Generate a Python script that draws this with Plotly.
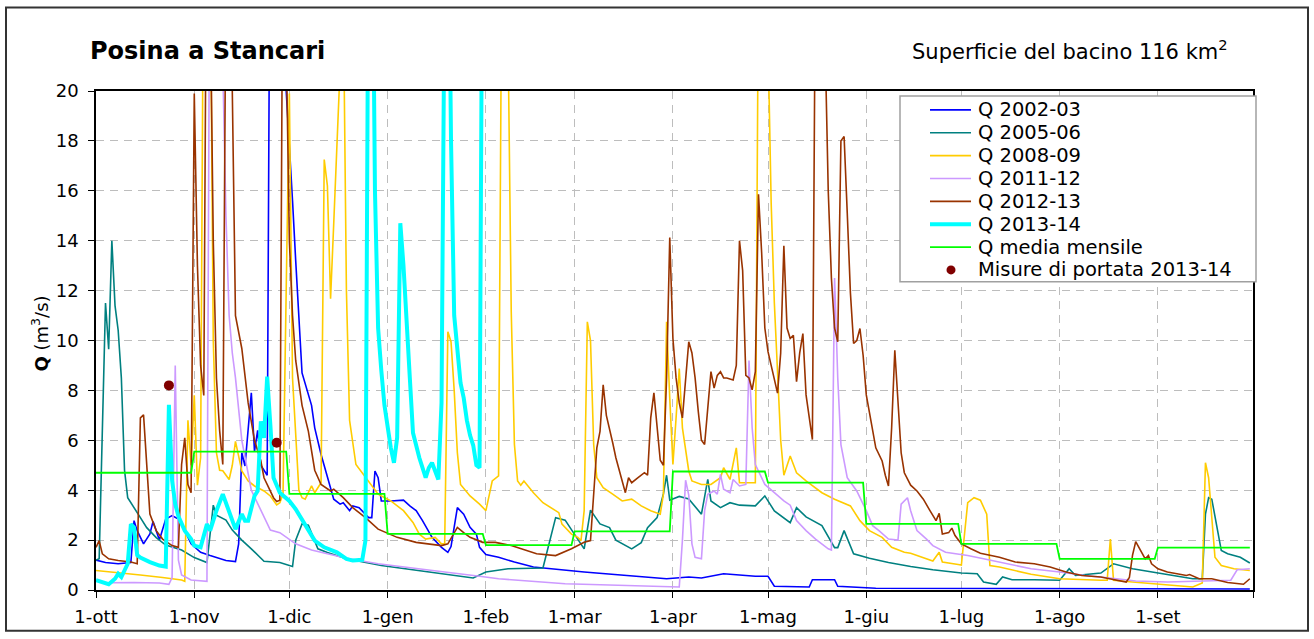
import plotly.graph_objects as go

# ---------------------------------------------------------------------------
# Data.  x = day of the hydrological year (0 = 1 October, 364 = 30 September)
# ---------------------------------------------------------------------------
MONTH_LABELS = ["1-ott", "1-nov", "1-dic", "1-gen", "1-feb", "1-mar",
                "1-apr", "1-mag", "1-giu", "1-lug", "1-ago", "1-set"]
MONTH_DAYS = [31, 30, 31, 31, 28, 31, 30, 31, 30, 31, 31, 30]

# daily discharge Q (m3/s), (day, value)
q_2002_03 = [(0, 1.2), (3, 1.1), (7, 1.05), (11, 1.1), (12, 2.78), (13, 2.38), (15, 1.85), (17, 2.25),
             (18, 2.75), (20, 2.0), (22, 2.84), (24, 2.98), (26, 2.84), (28, 2.38), (30, 1.85), (33, 1.51),
             (36, 1.38), (41, 1.18), (44, 1.14), (45, 1.85), (46, 5.5), (47, 4.97), (49, 7.9), (50, 5.56),
             (51, 6.4), (52, 5.0), (54, 4.6), (55, 30), (56, 38), (57, 34), (58, 28), (59, 24), (60, 20),
             (61, 18), (62, 15.6), (63, 13.2), (64, 10.8), (65, 8.7), (68, 7.4), (69, 6.5), (71, 5.43),
             (73, 4.5), (75, 3.64), (77, 3.44), (78, 3.5), (80, 3.18), (81, 3.37), (83, 3.3), (86, 2.9),
             (87, 2.9), (88, 4.77), (89, 4.5), (90, 3.57), (93, 3.57), (97, 3.6), (99, 3.37), (101, 3.18),
             (103, 2.78), (106, 2.11), (109, 1.71), (111, 1.51), (112, 1.74), (114, 3.3), (116, 3.04),
             (118, 2.51), (120, 2.24), (121, 1.71), (123, 1.42), (127, 1.31), (132, 1.12), (138, 0.92),
             (154, 0.72), (169, 0.56), (180, 0.45), (187, 0.52), (191, 0.48), (198, 0.65), (208, 0.55),
             (212, 0.55), (214, 0.15), (225, 0.12), (226, 0.41), (233, 0.41), (234, 0.15), (246, 0.07),
             (300, 0.06), (364, 0.04)]

q_2005_06 = [(0, 1.2), (1, 1.25), (3, 11.5), (4, 9.65), (5, 14.0), (6, 11.4), (7, 10.4), (8, 8.5), (9, 4.8),
             (10, 3.7), (14, 2.9), (16, 2.5), (19, 2.1), (22, 1.8), (27, 1.6), (31, 1.3), (35, 1.1), (37, 3.4),
             (38, 3.0), (41, 2.8), (43, 2.4), (46, 2.0), (49, 1.65), (53, 1.15), (58, 1.1), (62, 0.94),
             (63, 2.0), (65, 2.65), (67, 2.6), (70, 1.65), (73, 1.5), (79, 1.25), (90, 0.98), (100, 0.8),
             (111, 0.63), (119, 0.48), (123, 0.72), (130, 0.85), (141, 0.88), (145, 2.9), (148, 2.8),
             (151, 2.25), (154, 1.65), (156, 3.2), (159, 2.65), (162, 2.5), (164, 2.0), (169, 1.65),
             (172, 1.9), (174, 2.5), (177, 2.9), (179, 3.85), (180, 4.6), (181, 3.6), (184, 3.75),
             (187, 3.65), (191, 3.04), (193, 4.43), (194, 3.57), (197, 3.3), (200, 3.5), (203, 3.4),
             (208, 3.37), (211, 3.77), (214, 3.17), (219, 2.7), (221, 3.3), (224, 2.93), (229, 2.58),
             (233, 1.7), (234, 1.7), (236, 2.38), (239, 1.45), (244, 1.27), (250, 1.1), (257, 0.94),
             (264, 0.81), (273, 0.68), (278, 0.65), (280, 0.32), (284, 0.23), (286, 0.52), (289, 0.41),
             (296, 0.41), (304, 0.39), (307, 0.85), (309, 0.58), (317, 0.68), (321, 1.05), (327, 0.85),
             (338, 0.61), (346, 0.45), (349, 0.45), (350, 3.04), (351, 3.7), (352, 3.64), (355, 1.58),
             (357, 1.45), (361, 1.31), (364, 1.08)]

q_2008_09 = [(0, 0.78), (7, 0.7), (14, 0.6), (21, 0.5), (27, 0.4), (28, 0.35), (29, 6.8), (30, 5.0),
             (31, 7.8), (32, 4.2), (33, 5.3), (34, 28), (35, 35), (36, 26), (37, 10), (38, 5.5), (39, 4.8),
             (40, 4.78), (42, 4.43), (43, 5.0), (44, 5.96), (46, 4.77), (48, 4.37), (50, 4.17), (53, 3.97),
             (55, 3.77), (57, 3.41), (58, 3.5), (59, 3.84), (60, 12), (61, 19.9), (62, 8.5), (64, 4.0),
             (65, 3.7), (66, 3.64), (68, 4.17), (69, 3.9), (71, 4.3), (72, 17.25), (73, 16.2), (74, 11.67),
             (75, 14.7), (77, 19.8), (78, 24), (79, 12), (80, 6.8), (82, 5.03), (84, 4.7), (86, 4.37),
             (89, 3.84), (93, 3.57), (97, 3.18), (100, 2.71), (102, 2.24), (104, 2.04), (107, 2.11),
             (109, 1.85), (110, 1.85), (111, 10.35), (112, 9.95), (113, 8.0), (114, 5.5), (115, 4.23),
             (118, 3.77), (121, 3.44), (123, 3.18), (124, 3.77), (125, 4.37), (127, 4.57), (128, 25),
             (129, 30), (130, 22), (131, 11.14), (132, 5.83), (133, 4.37), (134, 4.2), (135, 4.37),
             (138, 3.9), (141, 3.5), (146, 3.1), (147, 2.64), (150, 2.24), (152, 2.11), (153, 1.98),
             (154, 3.18), (155, 10.75), (156, 10.0), (157, 5.83), (158, 4.5), (160, 4.1), (163, 3.84),
             (166, 3.57), (169, 3.64), (172, 3.37), (175, 3.18), (178, 3.04), (179, 3.84), (180, 10.75),
             (181, 7.69), (182, 5.03), (183, 6.9), (184, 8.88), (185, 6.5), (187, 4.77), (188, 4.37),
             (191, 4.23), (194, 4.23), (197, 4.5), (198, 4.9), (200, 4.43), (202, 5.7), (203, 4.3),
             (208, 4.3), (209, 25), (210, 35), (211, 30), (212, 22), (213, 15.5), (214, 11.5), (215, 8.5),
             (216, 6.0), (217, 4.6), (219, 5.37), (221, 4.7), (224, 4.37), (229, 3.9), (233, 3.64),
             (238, 3.37), (241, 2.78), (244, 2.38), (248, 2.11), (251, 1.71), (255, 1.51), (257, 1.47),
             (261, 1.31), (264, 1.16), (266, 1.51), (267, 1.12), (272, 1.02), (273, 1.0), (275, 3.5),
             (277, 3.7), (279, 3.6), (281, 3.04), (282, 0.98), (285, 0.92), (295, 0.63), (304, 0.45),
             (317, 0.39), (319, 0.39), (320, 2.04), (321, 0.39), (327, 0.32), (338, 0.19), (346, 0.12),
             (349, 0.28), (350, 5.1), (351, 4.5), (353, 1.31), (355, 0.98), (359, 0.85), (364, 0.78)]

q_2011_12 = [(0, 0.39), (3, 0.29), (12, 0.3), (20, 0.28), (23, 0.23), (24, 0.5), (25, 9.0), (26, 1.2),
             (27, 0.6), (30, 0.4), (35, 0.35), (36, 30), (37, 40), (38, 35), (39, 28), (40, 21), (41, 15),
             (42, 11), (43, 9.5), (44, 8.5), (46, 6.0), (49, 4.0), (53, 2.9), (55, 2.4), (58, 2.3),
             (63, 1.85), (68, 1.6), (79, 1.27), (89, 1.05), (100, 0.89), (110, 0.72), (121, 0.55),
             (127, 0.45), (148, 0.25), (169, 0.16), (184, 0.12), (185, 2.0), (186, 4.4), (187, 3.8),
             (188, 1.85), (189, 1.31), (191, 1.25), (192, 3.18), (193, 3.84), (195, 3.97), (196, 3.84),
             (197, 4.63), (198, 4.04), (200, 3.9), (201, 4.43), (203, 4.17), (205, 4.23), (206, 9.2),
             (207, 6.5), (208, 5.03), (211, 4.23), (214, 3.9), (217, 3.57), (219, 3.4), (221, 2.78),
             (224, 2.38), (227, 2.04), (231, 1.65), (232, 1.6), (233, 12.5), (234, 8.5), (235, 5.83),
             (237, 4.5), (240, 3.97), (243, 3.18), (245, 2.58), (247, 2.38), (250, 2.04), (253, 2.0),
             (254, 3.44), (256, 3.7), (257, 3.18), (259, 2.38), (262, 2.04), (264, 1.78), (268, 1.51),
             (275, 1.38), (280, 1.25), (285, 1.12), (295, 0.85), (304, 0.72), (312, 0.58), (322, 0.45),
             (328, 0.36), (338, 0.32), (348, 0.36), (358, 0.39), (360, 0.81), (364, 0.85)]

q_2012_13 = [(0, 1.71), (1, 1.98), (2, 1.45), (4, 1.25), (7, 1.18), (11, 1.12), (13, 1.05), (14, 6.9),
             (15, 7.02), (16, 5.03), (17, 3.04), (19, 2.38), (21, 2.04), (24, 1.78), (26, 1.71), (27, 5.03),
             (28, 6.1), (29, 4.23), (30, 3.9), (31, 19.9), (32, 13), (33, 9), (34, 7.8), (35, 30), (36, 24),
             (37, 14), (38, 8.5), (39, 6.4), (40, 5.03), (41, 25), (42, 30), (43, 20), (44, 11.0),
             (46, 9.68), (48, 7.5), (50, 6.0), (52, 5.17), (53, 4.5), (55, 3.97), (56, 3.7), (57, 3.55),
             (58, 3.6), (59, 28), (60, 22), (61, 14), (62, 11), (63, 9.2), (65, 7.4), (67, 6.36), (69, 4.8),
             (71, 4.23), (74, 3.97), (75, 4.04), (78, 3.7), (81, 3.3), (85, 2.9), (89, 2.44), (95, 2.11),
             (101, 1.91), (105, 1.85), (109, 1.78), (111, 1.85), (114, 2.51), (116, 2.3), (118, 2.11),
             (122, 1.91), (126, 1.91), (131, 1.78), (139, 1.45), (145, 1.38), (150, 1.65), (154, 1.91),
             (156, 1.98), (157, 3.84), (158, 5.7), (159, 6.36), (160, 8.22), (161, 7.0), (162, 6.5),
             (163, 5.9), (164, 5.3), (165, 4.8), (166, 4.3), (167, 3.9), (168, 4.5), (169, 4.3), (171, 4.5),
             (173, 4.7), (174, 4.6), (175, 6.9), (176, 7.9), (177, 6.5), (178, 5.2), (179, 5.0), (180, 8.5),
             (181, 14.13), (182, 10.08), (183, 8.5), (184, 7.5), (185, 6.9), (186, 8.5), (187, 9.95),
             (188, 9.5), (189, 8.5), (190, 7.16), (191, 6.0), (192, 5.83), (193, 7.16), (194, 8.75),
             (195, 8.09), (196, 8.6), (197, 8.75), (198, 8.5), (199, 8.5), (201, 8.42), (202, 9.0),
             (203, 14.0), (204, 12.8), (205, 8.6), (206, 8.5), (207, 8.02), (208, 8.75), (209, 15.86),
             (210, 13.5), (211, 10.5), (212, 9.55), (213, 9.0), (214, 8.5), (215, 7.89), (216, 9.5),
             (217, 13.8), (218, 10.5), (219, 10.08), (220, 10.21), (221, 8.35), (222, 9.5), (223, 10.28),
             (224, 7.82), (225, 6.9), (226, 6.03), (227, 26), (228, 35), (229, 30), (230, 22), (231, 16),
             (232, 12.5), (233, 10.5), (234, 9.95), (235, 18.0), (236, 18.18), (237, 15.1), (238, 11.9),
             (239, 9.88), (240, 10.0), (241, 10.48), (242, 9.41), (243, 7.82), (245, 6.5), (246, 5.7),
             (248, 5.17), (249, 4.6), (250, 4.17), (251, 6.5), (252, 9.61), (253, 7.7), (254, 5.5),
             (255, 4.7), (257, 4.2), (259, 3.97), (261, 3.64), (263, 3.2), (265, 2.78), (266, 3.07),
             (267, 2.24), (269, 2.3), (270, 2.48), (271, 2.18), (273, 1.85), (276, 1.65), (279, 1.47),
             (285, 1.31), (290, 1.12), (296, 1.05), (301, 0.92), (306, 0.72), (311, 0.58), (317, 0.52),
             (325, 0.32), (326, 0.5), (327, 1.4), (328, 1.94), (329, 1.7), (331, 1.25), (332, 1.38),
             (333, 1.05), (335, 0.85), (338, 0.72), (344, 0.58), (345, 0.62), (348, 0.45), (352, 0.45),
             (357, 0.3), (362, 0.23), (364, 0.45)]

q_2013_14 = [(0, 0.39), (3, 0.25), (4, 0.23), (6, 0.45), (7, 0.65), (8, 0.52), (10, 1.05), (11, 2.64),
             (12, 2.5), (13, 1.4), (14, 1.3), (17, 1.12), (20, 0.98), (22, 0.94), (23, 7.42), (24, 4.4),
             (25, 3.44), (26, 2.95), (28, 2.38), (30, 2.04), (31, 1.78), (33, 1.71), (34, 2.11), (35, 2.64),
             (36, 2.38), (38, 3.18), (40, 3.84), (42, 3.18), (44, 2.44), (46, 3.04), (47, 2.78), (48, 2.78),
             (50, 3.77), (51, 3.97), (52, 6.76), (53, 6.1), (54, 8.55), (55, 6.63), (56, 4.5), (58, 3.9),
             (61, 3.57), (63, 3.24), (66, 2.64), (69, 1.98), (72, 1.71), (76, 1.51), (79, 1.25), (81, 1.18),
             (84, 1.21), (85, 1.98), (86, 28), (87, 30), (88, 16), (89, 10.5), (90, 8.8), (91, 7.4),
             (93, 5.7), (94, 5.1), (95, 6.1), (96, 14.7), (97, 13.0), (98, 10.5), (99, 8.5), (100, 6.3),
             (102, 5.3), (104, 4.5), (105, 4.9), (106, 5.1), (107, 4.8), (108, 4.43), (109, 7.5), (110, 25),
             (111, 30), (112, 18), (113, 11), (114, 9.4), (115, 8.3), (116, 7.7), (117, 6.8), (118, 6.2),
             (119, 5.8), (120, 5.0), (121, 4.9), (122, 30)]

# monthly mean discharge, one value per month (ott ... set)
q_media_mensile = [4.7, 5.55, 3.85, 2.25, 1.8, 2.35, 4.75, 4.3, 2.65, 1.85, 1.25, 1.7]

# discharge measurements 2013-14
misure_giorni = [23, 57]
misure_q = [8.2, 5.9]

# ---------------------------------------------------------------------------
FONT = "'DejaVu Sans', Arial, sans-serif"
W, H = 1314, 639
PL, PR, PT, PB = 96, 1253, 91, 593          # plot area edges in pixels

def px(xp):
    return (xp - PL) / (PR - PL)

def py(yp):
    return (PB - yp) / (PB - PT)

month_starts = [sum(MONTH_DAYS[:i]) for i in range(len(MONTH_DAYS))]
year_len = sum(MONTH_DAYS)

series = [
    ("Q 2002-03", q_2002_03, "#0000FF", 1.6),
    ("Q 2005-06", q_2005_06, "#008080", 1.6),
    ("Q 2008-09", q_2008_09, "#FFCC00", 1.6),
    ("Q 2011-12", q_2011_12, "#CC99FF", 1.6),
    ("Q 2012-13", q_2012_13, "#993300", 1.6),
    ("Q 2013-14", q_2013_14, "#00FFFF", 4.0),
]

fig = go.Figure()
for name, pairs, color, width in series:
    days = [d for d, _ in pairs]
    vals = [v for _, v in pairs]
    fig.add_trace(go.Scatter(x=days, y=vals, mode="lines", name=name,
                             line=dict(color=color, width=width), hoverinfo="skip"))

# monthly mean as a step line: flat over each month
step_x, step_y = [], []
for start, ndays, q in zip(month_starts, MONTH_DAYS, q_media_mensile):
    step_x += [start, start + ndays - 1]
    step_y += [q, q]
fig.add_trace(go.Scatter(x=step_x, y=step_y, mode="lines", name="Q media mensile",
                         line=dict(color="#00FF00", width=1.8), hoverinfo="skip"))

fig.add_trace(go.Scatter(x=misure_giorni, y=misure_q, mode="markers",
                         name="Misure di portata 2013-14",
                         marker=dict(color="#800000", size=10), hoverinfo="skip"))

axis_common = dict(
    showline=True, linecolor="black", linewidth=1.5, mirror=True,
    ticks="outside", tickcolor="black", ticklen=6, tickwidth=1.2,
    showgrid=True, gridcolor="#BDBDBD", gridwidth=1, griddash="8px,6px",
    zeroline=False, tickfont=dict(family=FONT, size=18, color="black"),
)
fig.update_xaxes(range=[0, year_len], tickmode="array",
                 tickvals=month_starts, ticktext=MONTH_LABELS, ticklabelstandoff=4,
                 minor=dict(tickvals=[year_len], ticks="outside", ticklen=6,
                            tickcolor="black", showgrid=False),
                 **axis_common)
fig.update_yaxes(range=[0, 20], tickmode="linear", tick0=0, dtick=2,
                 ticklabelstandoff=6, **axis_common)

# ---- legend box, drawn by hand so that it keeps the compact row spacing ----
legend_entries = [(name, color, width) for name, _, color, width in series]
legend_entries.append(("Q media mensile", "#00FF00", 1.8))
shapes = [
    # outer frame of the chart
    dict(type="rect", xref="paper", yref="paper", x0=px(6), x1=px(1308), y0=py(634), y1=py(7),
         line=dict(color="#333333", width=2), fillcolor="rgba(0,0,0,0)", layer="above"),
    dict(type="rect", xref="paper", yref="paper", x0=px(900), x1=px(1256), y0=py(283), y1=py(96),
         line=dict(color="#A0A0A0", width=1.5), fillcolor="white", layer="above"),
]
annotations = []
LEG_SIZE = 19.5
row_y = [110 + 23.0 * i for i in range(8)]
for (name, color, width), yy in zip(legend_entries, row_y):
    shapes.append(dict(type="line", xref="paper", yref="paper", x0=px(930), x1=px(971),
                       y0=py(yy), y1=py(yy), line=dict(color=color, width=width), layer="above"))
    annotations.append(dict(text=name, xref="paper", yref="paper", x=px(976), y=py(yy),
                            xanchor="left", yanchor="middle", showarrow=False,
                            font=dict(family=FONT, size=LEG_SIZE, color="black")))
# measurement entry
shapes.append(dict(type="circle", xref="paper", yref="paper", x0=px(946.5), x1=px(955.5),
                   y0=py(row_y[7] + 4.5), y1=py(row_y[7] - 4.5),
                   line=dict(color="#800000", width=0), fillcolor="#800000", layer="above"))
annotations.append(dict(text="Misure di portata 2013-14", xref="paper", yref="paper", x=px(976),
                        y=py(row_y[7]), xanchor="left", yanchor="middle", showarrow=False,
                        font=dict(family=FONT, size=LEG_SIZE, color="black")))

# titles
annotations += [
    dict(text="<b>Posina a Stancari</b>", xref="paper", yref="paper", x=px(88), y=py(51),
         xanchor="left", yanchor="middle", showarrow=False,
         font=dict(family=FONT, size=24, color="black")),
    dict(text="Superficie del bacino 116 km<sup>2</sup>", xref="paper", yref="paper",
         x=px(1230), y=py(50), xanchor="right", yanchor="middle", showarrow=False,
         font=dict(family=FONT, size=21, color="black")),
    dict(text="<b>Q</b> (m<sup>3</sup>/s)", xref="paper", yref="paper", x=px(40), y=py(335),
         xanchor="center", yanchor="middle", textangle=-90, showarrow=False,
         font=dict(family=FONT, size=18, color="black")),
]

fig.update_layout(
    width=W, height=H,
    margin=dict(l=PL, r=W - PR, t=PT, b=H - PB, pad=0),
    paper_bgcolor="white", plot_bgcolor="white",
    showlegend=False,
    font=dict(family=FONT, color="black"),
    shapes=shapes, annotations=annotations,
)

fig.write_html("out.html")
